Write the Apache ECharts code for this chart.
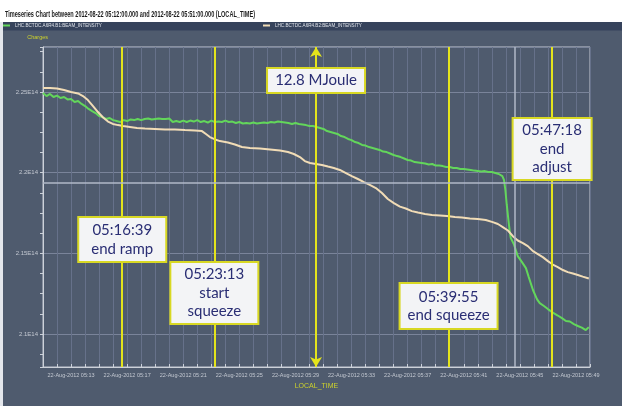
<!DOCTYPE html>
<html>
<head>
<meta charset="utf-8">
<script src="https://cdn.jsdelivr.net/npm/echarts@6/dist/echarts.min.js"></script>
<style>
  html, body { margin: 0; padding: 0; background: #ffffff; }
  #chart { width: 622px; height: 406px; }
</style>
</head>
<body>
<div id="chart"></div>
<script>
// ---- chart text ----
const TITLE = 'Timeseries Chart between 2012-08-22 05:12:00.000 and 2012-08-22 05:51:00.000 (LOCAL_TIME)';
const seriesNames = ['LHC.BCTDC.A6R4.B1:BEAM_INTENSITY', 'LHC.BCTDC.A6R4.B2:BEAM_INTENSITY'];
const xAxisName = 'LOCAL_TIME';
const yAxisName = 'Charges';
const dateLabel = '22-Aug-2012';

// ---- axes ----
const xRange = ['05:11:00', '05:50:00'];
const xTickLabels = ['05:13', '05:17', '05:21', '05:25', '05:29', '05:33', '05:37', '05:41', '05:45', '05:49'];
const yRange = [2.0796e14, 2.2779e14];
const yTickValues = [2.1e14, 2.15e14, 2.2e14, 2.25e14];

// ---- beam 1 intensity (charges) ----
const b1Samples = [
  ['05:11:00', 2.2494e14], ['05:11:15', 2.2475e14], ['05:11:30', 2.2488e14], ['05:11:45', 2.2469e14],
  ['05:12:00', 2.2478e14], ['05:12:15', 2.2463e14], ['05:12:30', 2.2469e14], ['05:12:45', 2.2454e14],
  ['05:13:00', 2.2457e14], ['05:13:15', 2.2438e14], ['05:13:30', 2.2444e14], ['05:13:45', 2.2426e14],
  ['05:14:00', 2.2413e14], ['05:14:15', 2.2395e14], ['05:14:30', 2.2382e14], ['05:14:45', 2.2370e14],
  ['05:15:00', 2.2351e14], ['05:15:15', 2.2345e14], ['05:15:30', 2.2333e14], ['05:15:45', 2.2339e14],
  ['05:16:00', 2.2326e14], ['05:16:15', 2.2320e14], ['05:16:30', 2.2314e14], ['05:16:45', 2.2326e14],
  ['05:17:00', 2.2320e14], ['05:17:15', 2.2330e14], ['05:17:30', 2.2326e14], ['05:17:45', 2.2333e14],
  ['05:18:00', 2.2326e14], ['05:18:15', 2.2333e14], ['05:18:30', 2.2336e14], ['05:18:45', 2.2330e14],
  ['05:19:00', 2.2333e14], ['05:19:15', 2.2336e14], ['05:19:30', 2.2333e14], ['05:19:45', 2.2333e14],
  ['05:20:00', 2.2336e14], ['05:20:15', 2.2314e14], ['05:20:30', 2.2320e14], ['05:20:45', 2.2314e14],
  ['05:21:00', 2.2323e14], ['05:21:15', 2.2314e14], ['05:21:30', 2.2323e14], ['05:21:45', 2.2317e14],
  ['05:22:00', 2.2326e14], ['05:22:15', 2.2314e14], ['05:22:30', 2.2320e14], ['05:22:45', 2.2311e14],
  ['05:23:00', 2.2323e14], ['05:23:15', 2.2314e14], ['05:23:30', 2.2317e14], ['05:23:45', 2.2314e14],
  ['05:24:00', 2.2323e14], ['05:24:15', 2.2314e14], ['05:24:30', 2.2317e14], ['05:24:45', 2.2308e14],
  ['05:25:00', 2.2314e14], ['05:25:15', 2.2305e14], ['05:25:30', 2.2308e14], ['05:25:45', 2.2305e14],
  ['05:26:00', 2.2311e14], ['05:26:15', 2.2305e14], ['05:26:30', 2.2308e14], ['05:26:45', 2.2311e14],
  ['05:27:00', 2.2308e14], ['05:27:15', 2.2314e14], ['05:27:30', 2.2311e14], ['05:27:45', 2.2317e14],
  ['05:28:00', 2.2314e14], ['05:28:15', 2.2311e14], ['05:28:30', 2.2308e14], ['05:28:45', 2.2302e14],
  ['05:29:00', 2.2308e14], ['05:29:15', 2.2302e14], ['05:29:30', 2.2299e14], ['05:29:45', 2.2295e14],
  ['05:30:00', 2.2289e14], ['05:30:15', 2.2289e14], ['05:30:30', 2.2283e14], ['05:30:45', 2.2277e14],
  ['05:31:00', 2.2271e14], ['05:31:15', 2.2258e14], ['05:31:30', 2.2252e14], ['05:31:45', 2.2246e14],
  ['05:32:00', 2.2240e14], ['05:32:15', 2.2227e14], ['05:32:30', 2.2221e14], ['05:32:45', 2.2209e14],
  ['05:33:00', 2.2202e14], ['05:33:15', 2.2190e14], ['05:33:30', 2.2184e14], ['05:33:45', 2.2172e14],
  ['05:34:00', 2.2168e14], ['05:34:15', 2.2159e14], ['05:34:30', 2.2153e14], ['05:34:45', 2.2147e14],
  ['05:35:00', 2.2141e14], ['05:35:15', 2.2131e14], ['05:35:30', 2.2128e14], ['05:35:45', 2.2119e14],
  ['05:36:00', 2.2110e14], ['05:36:15', 2.2103e14], ['05:36:30', 2.2097e14], ['05:36:45', 2.2088e14],
  ['05:37:00', 2.2079e14], ['05:37:15', 2.2075e14], ['05:37:30', 2.2066e14], ['05:37:45', 2.2063e14],
  ['05:38:00', 2.2060e14], ['05:38:15', 2.2057e14], ['05:38:30', 2.2051e14], ['05:38:45', 2.2054e14],
  ['05:39:00', 2.2044e14], ['05:39:15', 2.2044e14], ['05:39:30', 2.2041e14], ['05:39:45', 2.2035e14],
  ['05:40:00', 2.2035e14], ['05:40:15', 2.2029e14], ['05:40:30', 2.2029e14], ['05:40:45', 2.2023e14],
  ['05:41:00', 2.2023e14], ['05:41:15', 2.2020e14], ['05:41:30', 2.2017e14], ['05:41:45', 2.2013e14],
  ['05:42:00', 2.2010e14], ['05:42:15', 2.2007e14], ['05:42:30', 2.2010e14], ['05:42:45', 2.2004e14],
  ['05:43:00', 2.2004e14], ['05:43:15', 2.1998e14], ['05:43:30', 2.1992e14], ['05:43:45', 2.1979e14],
  ['05:43:52', 2.1955e14], ['05:43:58', 2.1893e14], ['05:44:04', 2.1800e14], ['05:44:11', 2.1707e14],
  ['05:44:17', 2.1632e14], ['05:44:21', 2.1595e14], ['05:44:34', 2.1558e14], ['05:44:51', 2.1483e14],
  ['05:45:09', 2.1446e14], ['05:45:26', 2.1409e14], ['05:45:38', 2.1353e14], ['05:45:56', 2.1273e14],
  ['05:46:13', 2.1217e14], ['05:46:25', 2.1192e14], ['05:46:43', 2.1174e14], ['05:47:00', 2.1155e14],
  ['05:47:21', 2.1133e14], ['05:47:42', 2.1115e14], ['05:48:00', 2.1099e14], ['05:48:17', 2.1081e14],
  ['05:48:34', 2.1078e14], ['05:48:51', 2.1062e14], ['05:49:08', 2.1050e14], ['05:49:25', 2.1040e14],
  ['05:49:42', 2.1025e14], ['05:49:55', 2.1043e14]
];

// ---- beam 2 intensity (charges) ----
const b2Samples = [
  ['05:11:00', 2.2525e14], ['05:11:30', 2.2525e14], ['05:12:00', 2.2522e14], ['05:12:30', 2.2512e14],
  ['05:13:00', 2.2500e14], ['05:13:30', 2.2491e14], ['05:13:51', 2.2475e14], ['05:14:12', 2.2450e14],
  ['05:14:34', 2.2413e14], ['05:14:55', 2.2376e14], ['05:15:17', 2.2342e14], ['05:15:38', 2.2317e14],
  ['05:15:59', 2.2302e14], ['05:16:21', 2.2295e14], ['05:16:42', 2.2289e14], ['05:17:12', 2.2283e14],
  ['05:17:42', 2.2277e14], ['05:18:16', 2.2274e14], ['05:18:59', 2.2271e14], ['05:19:42', 2.2268e14],
  ['05:20:24', 2.2268e14], ['05:21:07', 2.2264e14], ['05:21:50', 2.2261e14], ['05:22:20', 2.2258e14],
  ['05:22:37', 2.2240e14], ['05:22:54', 2.2221e14], ['05:23:16', 2.2206e14], ['05:23:37', 2.2196e14],
  ['05:24:11', 2.2187e14], ['05:24:41', 2.2175e14], ['05:25:11', 2.2159e14], ['05:25:45', 2.2153e14],
  ['05:26:28', 2.2150e14], ['05:27:11', 2.2144e14], ['05:27:54', 2.2137e14], ['05:28:28', 2.2128e14],
  ['05:28:53', 2.2116e14], ['05:29:19', 2.2097e14], ['05:29:40', 2.2072e14], ['05:30:02', 2.2060e14],
  ['05:30:28', 2.2054e14], ['05:30:53', 2.2048e14], ['05:31:19', 2.2038e14], ['05:31:44', 2.2029e14],
  ['05:32:10', 2.2017e14], ['05:32:36', 2.1998e14], ['05:33:01', 2.1979e14], ['05:33:27', 2.1961e14],
  ['05:33:53', 2.1942e14], ['05:34:18', 2.1924e14], ['05:34:44', 2.1905e14], ['05:35:10', 2.1874e14],
  ['05:35:35', 2.1837e14], ['05:36:01', 2.1812e14], ['05:36:27', 2.1790e14], ['05:36:52', 2.1778e14],
  ['05:37:18', 2.1762e14], ['05:37:44', 2.1753e14], ['05:38:14', 2.1744e14], ['05:38:44', 2.1738e14],
  ['05:39:18', 2.1735e14], ['05:39:48', 2.1731e14], ['05:40:22', 2.1725e14], ['05:40:52', 2.1722e14],
  ['05:41:26', 2.1716e14], ['05:42:00', 2.1713e14], ['05:42:34', 2.1707e14], ['05:43:04', 2.1694e14],
  ['05:43:26', 2.1682e14], ['05:43:47', 2.1663e14], ['05:44:09', 2.1642e14], ['05:44:30', 2.1607e14],
  ['05:44:51', 2.1580e14], ['05:45:13', 2.1564e14], ['05:45:34', 2.1545e14], ['05:45:56', 2.1514e14],
  ['05:46:17', 2.1496e14], ['05:46:38', 2.1477e14], ['05:47:00', 2.1452e14], ['05:47:21', 2.1431e14],
  ['05:47:42', 2.1415e14], ['05:48:04', 2.1397e14], ['05:48:25', 2.1384e14], ['05:48:47', 2.1375e14],
  ['05:49:08', 2.1366e14], ['05:49:29', 2.1356e14], ['05:49:55', 2.1344e14]
];

// ---- machine events and markers ----
const eventTimes = ['05:16:39', '05:23:13', '05:39:55', '05:47:18'];
const eventTexts = [
  ['05:16:39', 'end ramp'],
  ['05:23:13', 'start', 'squeeze'],
  ['05:39:55', 'end squeeze'],
  ['05:47:18', 'end', 'adjust']
];
const energyTime = '05:30:28';
const energyText = '12.8 MJoule';
const cursorTime = '05:44:38';
const cursorValue = 2.1936e14;

// ---- annotation box layout (pixels) ----
const eventBoxLayout = [
  { top: 217, width: 88, height: 45 },
  { top: 262, width: 88, height: 62 },
  { top: 283, width: 98, height: 46 },
  { top: 118, width: 79, height: 62 }
];
const energyBoxLayout = { top: 68, width: 98, height: 25 };

// ---- palette ----
const BG = '#4f5b6e';
const GREEN = '#63d65b';
const BEIGE = '#f1dcb6';
const YELLOW = '#e4e41c';
const AXIS = '#ccd1d9';
const LABEL = '#c3c8d1';
const NAME = '#cdd22c';

function toSec(t) {
  const p = t.split(':').map(Number);
  return p[0] * 3600 + p[1] * 60 + (p[2] || 0);
}
function pad2(n) { return String(n).padStart(2, '0'); }

const chart = echarts.init(document.getElementById('chart'), null, { renderer: 'canvas' });

const legendText = { color: '#dde1e8', fontSize: 4.6, fontFamily: 'Liberation Sans' };

const option = {
  animation: false,
  backgroundColor: BG,
  legend: [
    {
      data: [seriesNames[0]], left: 3, top: 23, padding: 0,
      itemWidth: 7, itemHeight: 2, icon: 'rect', itemGap: 3,
      textStyle: legendText
    },
    {
      data: [seriesNames[1]], left: 263, top: 23, padding: 0,
      itemWidth: 7, itemHeight: 2, icon: 'rect', itemGap: 3,
      textStyle: legendText
    }
  ],
  grid: {
    left: 43, right: 32, top: 47, bottom: 39,
    show: true, borderColor: '#c4c9d2', borderWidth: 1, backgroundColor: 'transparent'
  },
  xAxis: {
    type: 'value',
    min: toSec(xRange[0]),
    max: toSec(xRange[1]),
    interval: 60,
    name: xAxisName,
    nameLocation: 'middle',
    nameGap: 16,
    nameTextStyle: { color: NAME, fontSize: 7, fontFamily: 'Liberation Sans' },
    axisLine: { lineStyle: { color: AXIS, width: 1 } },
    axisTick: { inside: true, length: 3, lineStyle: { color: AXIS } },
    splitLine: { show: true, lineStyle: { color: '#66718a', width: 1 } },
    axisLabel: {
      color: LABEL, fontSize: 5.5, margin: 5, fontFamily: 'Liberation Sans',
      showMinLabel: true, showMaxLabel: true,
      formatter: function (v) {
        const m = Math.round(v / 60);
        const hm = pad2(Math.floor(m / 60)) + ':' + pad2(m % 60);
        return xTickLabels.indexOf(hm) >= 0 ? dateLabel + ' ' + hm : '';
      }
    }
  },
  yAxis: {
    type: 'value',
    min: yRange[0],
    max: yRange[1],
    minInterval: 0.05e14,
    maxInterval: 0.05e14,
    name: yAxisName,
    nameLocation: 'end',
    nameGap: 7,
    nameTextStyle: { color: NAME, fontSize: 5.5, fontFamily: 'Liberation Sans', align: 'right', padding: [0, -5, 0, 0] },
    axisLine: { show: true, lineStyle: { color: AXIS, width: 1 } },
    axisTick: { show: true, inside: false, length: 3, lineStyle: { color: AXIS } },
    minorTick: { show: true, splitNumber: 4, length: 3, lineStyle: { color: AXIS } },
    splitLine: { show: true, lineStyle: { color: '#7a849a', width: 1 } },
    axisLabel: {
      color: LABEL, fontSize: 6, margin: 5, fontFamily: 'Liberation Sans',
      showMinLabel: false, showMaxLabel: false,
      formatter: function (v) {
        const hit = yTickValues.some(function (t) { return Math.abs(t - v) < 1e9; });
        if (!hit) return '';
        return parseFloat((v / 1e14).toFixed(4)) + 'E14';
      }
    }
  },
  series: [
    {
      name: seriesNames[0],
      type: 'line',
      showSymbol: false,
      symbol: 'none',
      data: b1Samples.map(function (d) { return [toSec(d[0]), d[1]]; }),
      lineStyle: { color: GREEN, width: 2 },
      itemStyle: { color: GREEN },
      z: 3,
      markLine: {
        silent: true,
        symbol: 'none',
        label: { show: false },
        data: eventTimes.map(function (t) {
          return { xAxis: toSec(t), lineStyle: { color: YELLOW, width: 2, type: 'solid' } };
        }).concat([
          { xAxis: toSec(cursorTime), lineStyle: { color: '#b0b9c9', width: 1.5, type: 'solid' } },
          { yAxis: cursorValue, lineStyle: { color: '#b0b9c9', width: 1.5, type: 'solid' } }
        ])
      }
    },
    {
      name: seriesNames[1],
      type: 'line',
      showSymbol: false,
      symbol: 'none',
      data: b2Samples.map(function (d) { return [toSec(d[0]), d[1]]; }),
      lineStyle: { color: BEIGE, width: 2 },
      itemStyle: { color: BEIGE },
      z: 4,
      markLine: {
        silent: true,
        symbol: ['arrow', 'arrow'],
        symbolSize: [9, 10],
        label: { show: false },
        lineStyle: { color: YELLOW, width: 2, type: 'solid' },
        data: [{ xAxis: toSec(energyTime) }]
      }
    }
  ]
};

chart.setOption(option);

// Title text is horizontally condensed to the header width
function measure(text, font) {
  const ctx = document.createElement('canvas').getContext('2d');
  ctx.font = font;
  return ctx.measureText(text).width;
}
const titleFont = 'bold 9px "Liberation Sans"';
const titleScale = 250 / measure(TITLE, titleFont);

function annotation(id, xValue, lines, layout) {
  const cx = chart.convertToPixel({ xAxisIndex: 0 }, toSec(xValue));
  return {
    type: 'group', id: id, x: cx, y: layout.top, z: 100,
    children: [
      {
        type: 'rect', z: 100,
        shape: { x: -layout.width / 2, y: 0, width: layout.width, height: layout.height },
        style: { fill: '#f3f4f6', stroke: '#d8d823', lineWidth: 2 }
      },
      {
        type: 'text', z: 101, x: 0, y: layout.height / 2,
        style: {
          text: lines.join('\n'), font: '15px Lato', fill: '#2a2e74',
          align: 'center', verticalAlign: 'middle', lineHeight: 18.5
        }
      }
    ]
  };
}

const graphics = [
  { type: 'rect', id: 'header', z: 0, shape: { x: 0, y: 0, width: 622, height: 22 }, style: { fill: '#ffffff' } },
  { type: 'rect', id: 'edge', z: 0, shape: { x: 0, y: 22, width: 3, height: 384 }, style: { fill: '#e4e7ec' } },
  { type: 'rect', id: 'legendBar', z: 0, shape: { x: 3, y: 22, width: 619, height: 8.5 }, style: { fill: '#36435c' } },
  {
    type: 'text', id: 'title', z: 1, x: 5, y: 15, scaleX: titleScale,
    style: { text: TITLE, font: titleFont, fill: '#1d1d1d', verticalAlign: 'middle' }
  },
  annotation('energy', energyTime, [energyText], energyBoxLayout)
];
eventTimes.forEach(function (t, i) {
  graphics.push(annotation('event' + i, t, eventTexts[i], eventBoxLayout[i]));
});

chart.setOption({ graphic: graphics });
</script>
</body>
</html>
